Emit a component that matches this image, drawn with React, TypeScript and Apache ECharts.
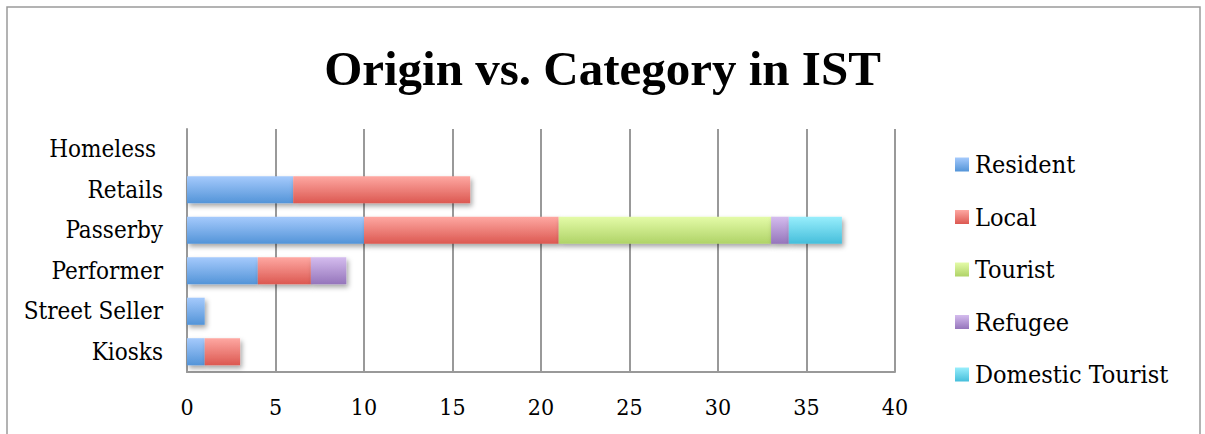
import React, { useEffect, useRef } from "react";
import * as echarts from "echarts";

const categories = ["Kiosks", "Street Seller", "Performer", "Passerby", "Retails", "Homeless "];
const resident = [1, 1, 4, 10, 6, 0];
const local = [2, 0, 3, 11, 10, 0];
const tourist = [0, 0, 0, 12, 0, 0];
const refugee = [0, 0, 2, 1, 0, 0];
const domesticTourist = [0, 0, 0, 3, 0, 0];
const xTicks = [0, 5, 10, 15, 20, 25, 30, 35, 40];

const FONT = "DejaVu Serif Condensed";
const TITLE_FONT = "Liberation Serif";

const grad = (top: string, bottom: string) =>
  new echarts.graphic.LinearGradient(0, 0, 0, 1, [
    { offset: 0, color: top },
    { offset: 1, color: bottom },
  ]);

export default function App() {
  const ref = useRef<HTMLDivElement>(null);
  useEffect(() => {
    if (!ref.current) return;
    const chart = echarts.init(ref.current, null, { renderer: "svg" });
    const mk = (name: string, data: number[], top: string, bottom: string) => ({
      name,
      type: "bar",
      stack: "total",
      data: data.map((v) => (v === 0 ? null : v)),
      barWidth: "67%",
      itemStyle: {
        color: grad(top, bottom),
        shadowColor: "rgba(0,0,0,0.35)",
        shadowBlur: 5,
        shadowOffsetX: 2,
        shadowOffsetY: 3,
      },
    });
    chart.setOption({
      animation: false,
      backgroundColor: "#ffffff",
      title: {
        text: "Origin vs. Category in IST",
        left: "center",
        top: 39,
        textStyle: { fontFamily: TITLE_FONT, fontSize: 49, fontWeight: "bold", color: "#000" },
      },
      graphic: [
        {
          type: "polyline",
          shape: { points: [[7, 440], [7, 7], [1200, 7], [1200, 440]] },
          style: { stroke: "#9a9a9a", lineWidth: 1.5, fill: "none" },
          silent: true,
        },
      ],
      legend: {
        orient: "vertical",
        left: 955,
        top: 152,
        padding: 0,
        icon: "rect",
        itemWidth: 14,
        itemHeight: 14,
        itemGap: 27.5,
        itemStyle: { shadowBlur: 0, shadowOffsetX: 0, shadowOffsetY: 0 },
        textStyle: { fontFamily: FONT, fontSize: 25, color: "#000", padding: [0, 0, 0, 1] },
        data: ["Resident", "Local", "Tourist", "Refugee", "Domestic Tourist"],
      },
      grid: { left: 187, right: 310, top: 129, bottom: 62, containLabel: false },
      xAxis: {
        type: "value",
        min: xTicks[0],
        max: xTicks[xTicks.length - 1],
        interval: 5,
        axisLine: { show: true, lineStyle: { color: "#999", width: 2 } },
        axisTick: { show: false },
        splitLine: { show: true, lineStyle: { color: "#999", width: 2 } },
        axisLabel: { fontFamily: FONT, fontSize: 23, color: "#000", margin: 23 },
      },
      yAxis: {
        type: "category",
        data: categories,
        axisLine: { show: true, lineStyle: { color: "#999", width: 2 } },
        axisTick: { show: false },
        axisLabel: {
          fontFamily: FONT,
          fontSize: 24,
          color: "#000",
          margin: 24,
          padding: [3, 0, 0, 0],
        },
      },
      series: [
        mk("Resident", resident, "#a5cafc", "#5394d8"),
        mk("Local", local, "#fea8a2", "#dc5851"),
        mk("Tourist", tourist, "#e4fba8", "#afd367"),
        mk("Refugee", refugee, "#d4bcee", "#9575bb"),
        mk("Domestic Tourist", domesticTourist, "#98eefc", "#45bedb"),
      ],
    });
    return () => chart.dispose();
  }, []);
  return (
    <div
      ref={ref}
      style={{ position: "absolute", left: 0, top: 0, width: 1205, height: 434 }}
    />
  );
}
